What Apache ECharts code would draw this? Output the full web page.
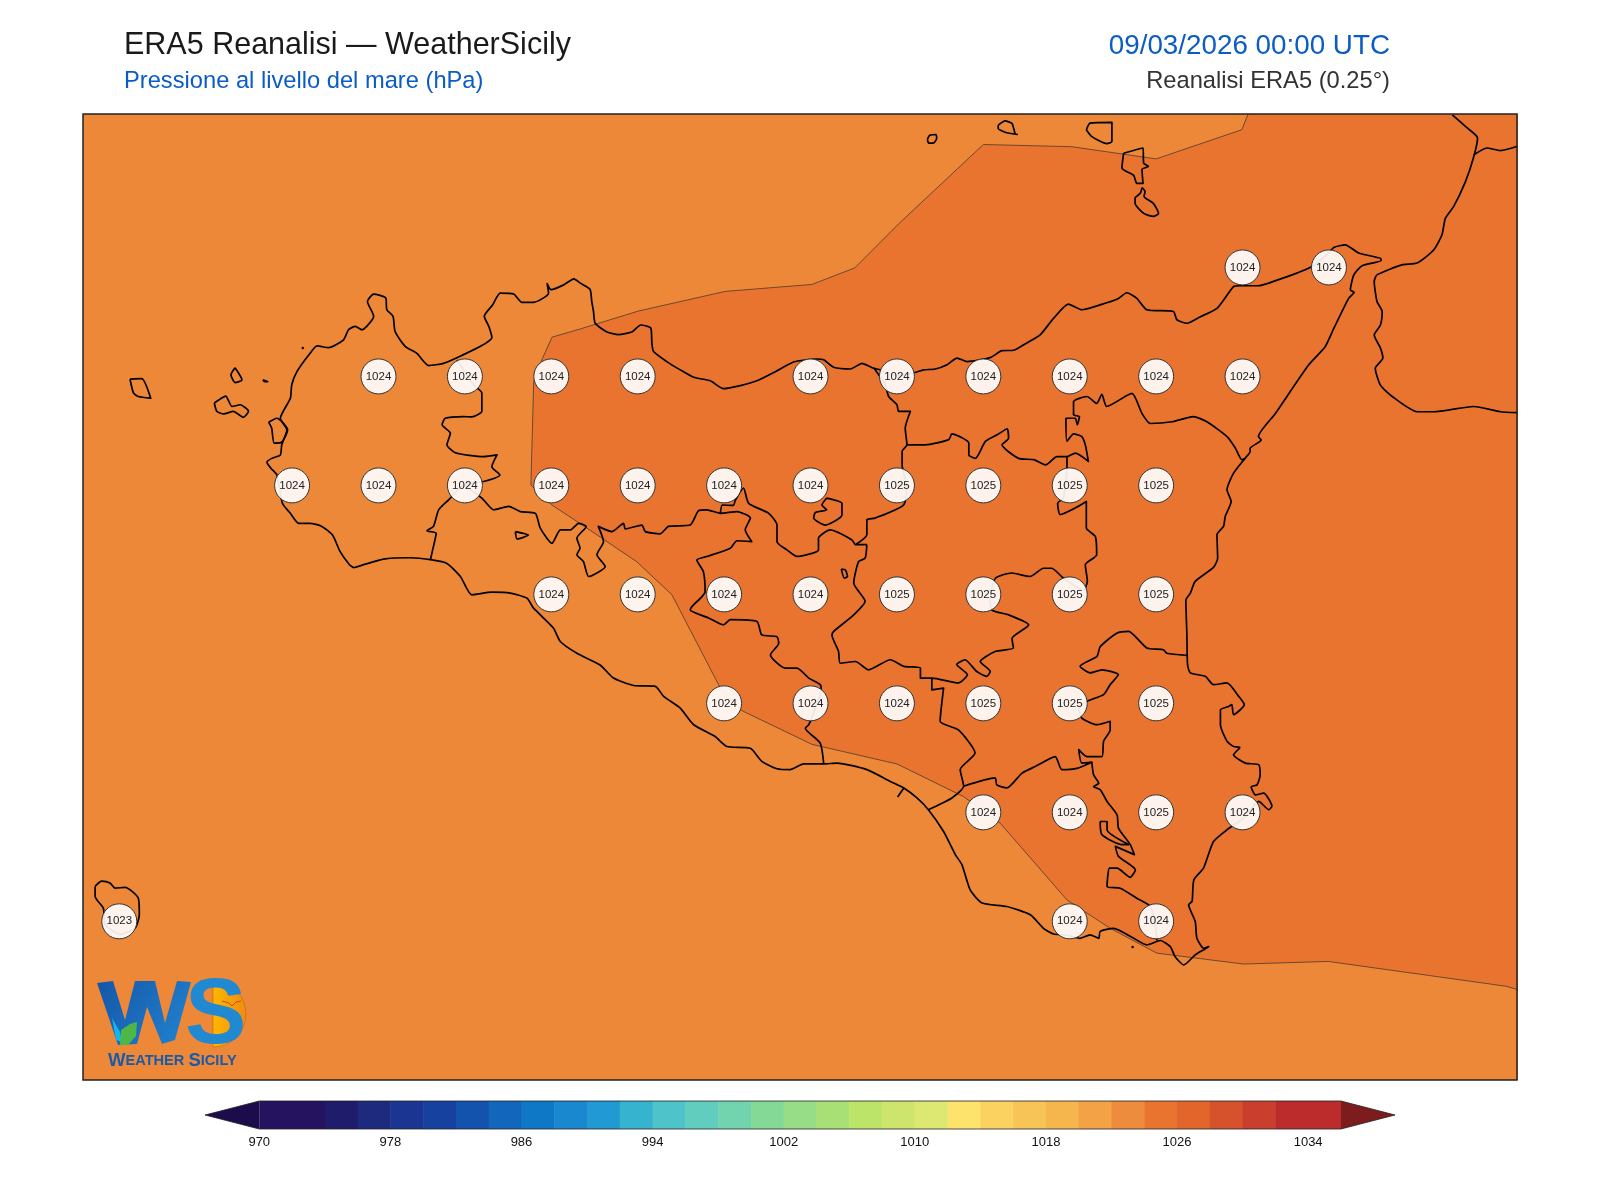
<!DOCTYPE html>
<html>
<head>
<meta charset="utf-8">
<title>ERA5 Reanalisi</title>
<script src="https://cdn.jsdelivr.net/npm/echarts@6/dist/echarts.min.js"></script>
<style>
  html, body { margin: 0; padding: 0; background: #fff; }
  #chart { width: 1600px; height: 1200px; }
</style>
</head>
<body>
<div id="chart"></div>
<script>
// stazioni griglia 0.25 gradi: lon, lat, pressione (hPa)
const stationLon = [15.25, 15.5,
  12.75, 13, 13.25, 13.5, 14, 14.25, 14.5, 14.75, 15, 15.25,
  12.5, 12.75, 13, 13.25, 13.5, 13.75, 14, 14.25, 14.5, 14.75, 15,
  13.25, 13.5, 13.75, 14, 14.25, 14.5, 14.75, 15,
  13.75, 14, 14.25, 14.5, 14.75, 15,
  14.5, 14.75, 15, 15.25,
  12, 14.75, 15];
const stationLat = [38.25, 38.25,
  38, 38, 38, 38, 38, 38, 38, 38, 38, 38,
  37.75, 37.75, 37.75, 37.75, 37.75, 37.75, 37.75, 37.75, 37.75, 37.75, 37.75,
  37.5, 37.5, 37.5, 37.5, 37.5, 37.5, 37.5, 37.5,
  37.25, 37.25, 37.25, 37.25, 37.25, 37.25,
  37, 37, 37, 37,
  36.75, 36.75, 36.75];
const stationPressure = [1024, 1024,
  1024, 1024, 1024, 1024, 1024, 1024, 1024, 1024, 1024, 1024,
  1024, 1024, 1024, 1024, 1024, 1024, 1024, 1025, 1025, 1025, 1025,
  1024, 1024, 1024, 1024, 1025, 1025, 1025, 1025,
  1024, 1024, 1024, 1025, 1025, 1025,
  1024, 1024, 1025, 1024,
  1023, 1024, 1024];

// isobanda 1024-1026 hPa
const contour1024 = [[15.27,38.61],[15.248,38.566],[15,38.499],[14.756,38.527],[14.5,38.532],[14.255,38.35],[14.128,38.249],[14.004,38.211],[13.753,38.195],[13.502,38.15],[13.334,38.109],[13.252,38.09],[13.218,38.03],[13.199,37.988],[13.191,37.751],[13.252,37.705],[13.353,37.652],[13.497,37.575],[13.599,37.499],[13.739,37.285],[13.797,37.235],[14.004,37.156],[14.25,37.111],[14.443,37.036],[14.549,36.975],[14.742,36.799],[14.867,36.734],[15.002,36.677],[15.253,36.652],[15.498,36.658],[16.013,36.601],[16.06,36.59],[16.06,38.61]];

// costa Sicilia
const coastSicily = [[12.678,37.561],[12.666,37.568],[12.639,37.598],[12.617,37.636],[12.586,37.656],[12.552,37.663],[12.519,37.663],[12.495,37.686],[12.472,37.709],[12.456,37.774],[12.439,37.789],[12.427,37.803],[12.441,37.812],[12.466,37.82],[12.47,37.843],[12.485,37.877],[12.466,37.904],[12.495,37.95],[12.499,37.981],[12.514,38.011],[12.552,38.053],[12.572,38.07],[12.606,38.066],[12.649,38.084],[12.663,38.107],[12.683,38.115],[12.702,38.107],[12.736,38.138],[12.718,38.172],[12.736,38.189],[12.771,38.18],[12.774,38.153],[12.792,38.138],[12.798,38.103],[12.827,38.069],[12.861,38.053],[12.895,38.025],[12.938,38.03],[12.996,38.05],[13.045,38.069],[13.078,38.089],[13.069,38.115],[13.056,38.138],[13.08,38.164],[13.102,38.191],[13.141,38.189],[13.165,38.17],[13.199,38.17],[13.242,38.191],[13.238,38.213],[13.249,38.199],[13.286,38.21],[13.315,38.224],[13.334,38.214],[13.362,38.2],[13.367,38.172],[13.372,38.149],[13.377,38.122],[13.411,38.102],[13.444,38.096],[13.483,38.102],[13.509,38.118],[13.538,38.111],[13.541,38.076],[13.546,38.057],[13.584,38.034],[13.623,38.015],[13.662,37.998],[13.71,37.99],[13.748,37.972],[13.797,37.979],[13.845,37.99],[13.903,38.013],[13.951,38.033],[14.019,38.04],[14.038,38.038],[14.067,38.021],[14.115,38.017],[14.149,38.03],[14.178,38.02],[14.202,38.015],[14.25,38.002],[14.303,38.009],[14.327,38.015],[14.361,38.017],[14.395,38.027],[14.424,38.042],[14.453,38.034],[14.52,38.043],[14.554,38.059],[14.588,38.06],[14.622,38.075],[14.665,38.096],[14.703,38.133],[14.746,38.166],[14.785,38.153],[14.857,38.169],[14.891,38.179],[14.915,38.192],[14.944,38.179],[14.973,38.153],[15.05,38.149],[15.06,38.13],[15.089,38.122],[15.128,38.137],[15.176,38.156],[15.224,38.206],[15.243,38.208],[15.296,38.208],[15.35,38.221],[15.407,38.237],[15.451,38.252],[15.499,38.283],[15.514,38.296],[15.547,38.302],[15.586,38.283],[15.649,38.271],[15.651,38.266],[15.596,38.254],[15.572,38.233],[15.562,38.198],[15.573,38.193],[15.557,38.179],[15.514,38.11],[15.489,38.068],[15.441,38.026],[15.345,37.915],[15.296,37.862],[15.304,37.854],[15.272,37.835],[15.272,37.828],[15.258,37.813],[15.224,37.778],[15.205,37.74],[15.217,37.713],[15.2,37.679],[15.195,37.656],[15.176,37.637],[15.178,37.583],[15.166,37.562],[15.113,37.53],[15.099,37.503],[15.086,37.487],[15.089,37.407],[15.091,37.338],[15.099,37.32],[15.142,37.312],[15.166,37.293],[15.205,37.297],[15.239,37.266],[15.255,37.247],[15.224,37.224],[15.219,37.247],[15.21,37.243],[15.186,37.235],[15.186,37.201],[15.205,37.163],[15.224,37.151],[15.242,37.149],[15.224,37.132],[15.258,37.113],[15.297,37.109],[15.301,37.086],[15.292,37.063],[15.275,37.059],[15.287,37.04],[15.311,37.044],[15.335,37.014],[15.326,37.006],[15.297,37.025],[15.253,36.987],[15.205,36.96],[15.166,36.933],[15.137,36.872],[15.109,36.845],[15.104,36.796],[15.094,36.788],[15.113,36.75],[15.118,36.711],[15.138,36.688],[15.152,36.692],[15.138,36.685],[15.113,36.673],[15.08,36.65],[15.055,36.669],[15.041,36.692],[15.012,36.706],[14.973,36.696],[14.935,36.711],[14.877,36.734],[14.838,36.727],[14.834,36.711],[14.809,36.719],[14.78,36.711],[14.737,36.719],[14.703,36.721],[14.674,36.734],[14.636,36.765],[14.568,36.784],[14.496,36.792],[14.462,36.822],[14.438,36.88],[14.419,36.903],[14.385,36.956],[14.341,37.006],[14.308,37.033],[14.27,37.056],[14.231,37.071],[14.163,37.098],[14.077,37.113],[14.038,37.111],[13.98,37.111],[13.941,37.098],[13.903,37.1],[13.859,37.117],[13.826,37.147],[13.758,37.151],[13.724,37.174],[13.662,37.201],[13.623,37.239],[13.575,37.266],[13.551,37.289],[13.488,37.291],[13.43,37.308],[13.391,37.338],[13.324,37.365],[13.276,37.392],[13.256,37.423],[13.198,37.469],[13.18,37.491],[13.131,37.503],[13.078,37.505],[13.02,37.499],[12.987,37.541],[12.948,37.571],[12.905,37.579],[12.842,37.584],[12.765,37.581],[12.678,37.561]];

// costa Calabria
const coastCalabria = [[15.857,38.6],[15.9,38.57],[15.93,38.547],[15.919,38.504],[15.895,38.447],[15.861,38.39],[15.837,38.363],[15.827,38.325],[15.803,38.29],[15.755,38.26],[15.711,38.256],[15.639,38.233],[15.631,38.218],[15.639,38.172],[15.654,38.149],[15.649,38.118],[15.631,38.095],[15.649,38.065],[15.656,38.042],[15.634,38.019],[15.649,37.98],[15.683,37.954],[15.755,37.919],[15.803,37.919],[15.919,37.931],[15.996,37.919],[16.045,37.917]];
const coastCalabriaGulf = [[15.919,38.508],[15.957,38.524],[15.996,38.518],[16.045,38.528]];

// isole (chiuse in fase di disegno)
const isleMarettimo = [[12.031,37.994],[12.065,37.995],[12.091,37.95],[12.055,37.954],[12.041,37.962]];
const isleLevanzo = [[12.335,38.02],[12.355,37.992],[12.335,37.986],[12.323,38.004]];
const isleFavignana = [[12.275,37.939],[12.308,37.955],[12.326,37.931],[12.35,37.935],[12.374,37.92],[12.359,37.906],[12.33,37.92],[12.302,37.914],[12.282,37.92]];
const isleStagnone = [[12.432,37.895],[12.456,37.904],[12.487,37.877],[12.47,37.849],[12.448,37.847],[12.441,37.881]];
const isleFormica = [[12.415,37.992],[12.429,37.988],[12.42,37.988]];
const isleAlicudi = [[14.338,38.544],[14.345,38.553],[14.363,38.555],[14.365,38.546],[14.355,38.535],[14.342,38.535]];
const isleSalina = [[14.543,38.576],[14.563,38.586],[14.583,38.58],[14.592,38.557],[14.598,38.555],[14.563,38.56],[14.543,38.569]];
const isleLipari = [[14.798,38.566],[14.809,38.581],[14.872,38.583],[14.872,38.539],[14.857,38.534],[14.814,38.55]];
const isleVulcanoNord = [[14.906,38.512],[14.962,38.524],[14.964,38.489],[14.978,38.482],[14.959,38.475],[14.962,38.443],[14.944,38.443],[14.935,38.461],[14.901,38.478]];
const isleVulcano = [[14.959,38.433],[14.968,38.424],[14.965,38.413],[14.992,38.397],[15.007,38.374],[14.992,38.367],[14.964,38.374],[14.939,38.397],[14.939,38.409],[14.954,38.42]];
const islePantelleria = [[11.93,36.83],[11.949,36.842],[11.973,36.838],[11.988,36.826],[12.017,36.828],[12.055,36.803],[12.058,36.765],[12.046,36.735],[12.002,36.72],[11.959,36.743],[11.954,36.78],[11.93,36.807]];
const rockDots = [[12.531,38.065],[14.932,36.691]];

// enclavi e laghi
const enclaveSalemi = [[13.146,37.644],[13.184,37.636],[13.151,37.627]];
const enclaveEnna = [[14.047,37.721],[14.091,37.709],[14.091,37.682],[14.043,37.659],[14.009,37.675],[14.014,37.688],[14.047,37.694],[14.033,37.705]];
const lakeSoprano = [[14.089,37.558],[14.101,37.556],[14.107,37.541],[14.098,37.537]];
const enclaveRagusa = [[14.838,36.979],[14.858,36.979],[14.858,36.96],[14.92,36.926],[14.901,36.926],[14.843,36.949]];

// confini provinciali
const borderTrapani = [[12.977,38.038],[13.025,37.981],[13.049,37.962],[13.049,37.92],[13.02,37.907],[12.996,37.908],[12.943,37.904],[12.934,37.889],[12.958,37.87],[12.948,37.843],[12.972,37.825],[13.054,37.816],[13.093,37.82],[13.078,37.793],[13.101,37.774],[13.054,37.759],[12.996,37.751],[12.953,37.717],[12.924,37.694],[12.909,37.656],[12.89,37.646],[12.917,37.64],[12.909,37.61],[12.9,37.579]];
const borderAgrigento = [[12.996,37.751],[13.049,37.721],[13.083,37.694],[13.127,37.702],[13.16,37.69],[13.204,37.686],[13.218,37.652],[13.252,37.617],[13.276,37.648],[13.305,37.648],[13.329,37.663],[13.351,37.656],[13.324,37.629],[13.333,37.606],[13.324,37.591],[13.343,37.575],[13.358,37.541],[13.406,37.564],[13.382,37.591],[13.401,37.621],[13.386,37.656],[13.425,37.644],[13.459,37.663],[13.464,37.65],[13.512,37.659],[13.522,37.644],[13.565,37.639],[13.589,37.656],[13.652,37.659],[13.676,37.692],[13.7,37.694],[13.739,37.686],[13.787,37.69],[13.826,37.675],[13.811,37.648],[13.83,37.621],[13.787,37.623],[13.768,37.606],[13.7,37.587],[13.671,37.579],[13.69,37.552],[13.695,37.506],[13.686,37.495],[13.657,37.472],[13.652,37.464],[13.705,37.446],[13.748,37.43],[13.768,37.442],[13.845,37.438],[13.859,37.407],[13.903,37.403],[13.908,37.388],[13.884,37.361],[13.927,37.331],[13.961,37.331],[13.995,37.308],[14.028,37.293],[14.031,37.281],[14.014,37.239],[13.995,37.201],[13.985,37.193],[14.028,37.159],[14.038,37.113]];
const borderPalermoSud = [[13.739,37.686],[13.745,37.705],[13.777,37.704],[13.782,37.715],[13.806,37.744],[13.821,37.709],[13.879,37.686],[13.903,37.659],[13.903,37.621],[13.932,37.602],[13.961,37.587],[14.023,37.602],[14.023,37.629],[14.057,37.648],[14.12,37.625],[14.13,37.614],[14.163,37.614]];
const borderPalermoEst = [[14.13,37.614],[14.163,37.637],[14.163,37.671],[14.187,37.675],[14.269,37.705],[14.279,37.744],[14.265,37.797],[14.265,37.828],[14.279,37.843],[14.274,37.881],[14.289,37.92],[14.255,37.92],[14.25,37.935],[14.226,37.954],[14.216,37.981],[14.183,38.02]];
const borderMessina = [[14.279,37.843],[14.332,37.843],[14.4,37.855],[14.409,37.868],[14.458,37.847],[14.458,37.82],[14.477,37.812],[14.506,37.851],[14.54,37.866],[14.569,37.88],[14.573,37.858],[14.554,37.843],[14.602,37.812],[14.646,37.809],[14.68,37.797],[14.713,37.816],[14.742,37.816],[14.766,37.824],[14.804,37.805],[14.795,37.843],[14.785,37.862],[14.761,37.868],[14.742,37.851],[14.739,37.904],[14.766,37.904],[14.772,37.889],[14.778,37.908],[14.761,37.912],[14.761,37.942],[14.8,37.954],[14.828,37.938],[14.843,37.959],[14.857,37.931],[14.93,37.961],[14.959,37.915],[14.983,37.892],[15.046,37.896],[15.108,37.908],[15.147,37.896],[15.205,37.862],[15.229,37.836],[15.248,37.809],[15.26,37.813]];
const borderEnnaNord = [[14.742,37.816],[14.742,37.793],[14.732,37.721],[14.715,37.709],[14.722,37.683],[14.756,37.694],[14.798,37.713],[14.798,37.652],[14.824,37.633],[14.828,37.591],[14.795,37.568],[14.801,37.53],[14.79,37.51],[14.732,37.537],[14.698,37.56],[14.674,37.56],[14.635,37.541],[14.582,37.549],[14.535,37.537],[14.52,37.491],[14.525,37.464],[14.573,37.453],[14.631,37.43],[14.583,37.399],[14.587,37.377],[14.534,37.369],[14.491,37.346],[14.52,37.323],[14.51,37.312],[14.481,37.323],[14.447,37.35],[14.423,37.339],[14.454,37.316],[14.428,37.297],[14.351,37.308],[14.318,37.308],[14.318,37.331],[14.27,37.335],[14.231,37.35],[14.168,37.327],[14.13,37.346],[14.086,37.342],[14.081,37.369],[14.062,37.407],[14.067,37.415],[14.125,37.453],[14.158,37.484],[14.125,37.526],[14.139,37.575],[14.158,37.583],[14.163,37.614]];
const borderGela = [[14.351,37.308],[14.351,37.281],[14.385,37.285],[14.375,37.209],[14.428,37.189],[14.476,37.136],[14.433,37.098],[14.443,37.06],[14.409,37.033],[14.37,37.017],[14.341,37.006]];
const borderRagusaNord = [[14.443,37.06],[14.534,37.079],[14.539,37.063],[14.568,37.056],[14.612,37.09],[14.65,37.105],[14.708,37.128],[14.727,37.098],[14.771,37.101],[14.814,37.115],[14.785,37.113],[14.776,37.144],[14.8,37.128],[14.843,37.128],[14.848,37.163],[14.867,37.189],[14.867,37.209],[14.829,37.201],[14.785,37.216],[14.776,37.239],[14.8,37.255],[14.848,37.27],[14.867,37.293],[14.891,37.316],[14.843,37.327],[14.809,37.32],[14.78,37.335],[14.829,37.358],[14.838,37.38],[14.886,37.411],[14.92,37.415],[14.973,37.377],[15.021,37.373],[15.031,37.365],[15.089,37.36]];
const borderSiracusa = [[14.814,37.115],[14.819,37.086],[14.834,37.067],[14.819,37.059],[14.838,37.052],[14.858,37.025],[14.887,36.994],[14.891,36.964],[14.925,36.926],[14.937,36.903],[14.882,36.922],[14.891,36.899],[14.94,36.868],[14.925,36.851],[14.887,36.872],[14.865,36.872],[14.858,36.83],[14.896,36.826],[14.944,36.803],[14.983,36.784],[14.998,36.742],[15.002,36.706]];
const tickLicata = [[14.252,37.035],[14.27,37.056]];

const openLines = [coastSicily, coastCalabria, coastCalabriaGulf, borderTrapani, borderAgrigento, borderPalermoSud, borderPalermoEst, borderMessina, borderEnnaNord, borderGela, borderRagusaNord, borderSiracusa, tickLicata];
const closedLines = [isleMarettimo, isleLevanzo, isleFavignana, isleStagnone, isleFormica, isleAlicudi, isleSalina, isleLipari, isleVulcanoNord, isleVulcano, islePantelleria, enclaveSalemi, enclaveEnna, lakeSoprano, enclaveRagusa];

// barra colori
const bandLevels = [970, 974, 976, 978, 980, 982, 984, 986, 988, 990, 992, 994, 996, 998, 1000, 1002, 1004, 1006, 1008, 1010, 1012, 1014, 1016, 1018, 1020, 1022, 1024, 1026, 1028, 1030, 1032, 1036];
const bandColors = ['#26135F', '#1F1C6C', '#1E2A7E', '#1B3592', '#17419F', '#1453AD', '#1266BB', '#0E78C7', '#1988CF', '#2199D2', '#35B3CF', '#4EC3CA', '#60CDBF', '#72D4AF', '#84D997', '#97DD88', '#A9E076', '#BBE468', '#CDE56C', '#DDE873', '#FDE36C', '#FBD25F', '#F7C458', '#F5B64E', '#F3A345', '#EE8C3D', '#E87430', '#E2652C', '#D6522C', '#C93E2C', '#BC2C2C'];
const barTicks = [970, 978, 986, 994, 1002, 1010, 1018, 1026, 1034];

const FONT = '"Liberation Sans", Arial, sans-serif';
const BLUE = '#0B5CC4';

const chart = echarts.init(document.getElementById('chart'));

const lineSeries = openLines.concat(closedLines.map(l => l.concat([l[0]]))).map(pts => ({
    type: 'line',
    data: pts,
    xAxisIndex: 0,
    yAxisIndex: 0,
    symbol: 'none',
    smooth: 0.2,
    silent: true,
    z: 3,
    lineStyle: { color: '#000', width: 1.7, join: 'round' }
}));

const option = {
    animation: false,
    backgroundColor: '#fff',
    title: [
        { text: 'ERA5 Reanalisi — WeatherSicily', left: 124, top: 30, padding: 0, textStyle: { fontFamily: FONT, fontSize: 30.5, fontWeight: 'normal', color: '#1a1a1a' } },
        { text: 'Pressione al livello del mare (hPa)', left: 124, top: 69, padding: 0, textStyle: { fontFamily: FONT, fontSize: 23.7, fontWeight: 'normal', color: BLUE } },
        { text: '09/03/2026 00:00 UTC', right: 210, top: 32, padding: 0, textStyle: { fontFamily: FONT, fontSize: 27.8, fontWeight: 'normal', color: BLUE } },
        { text: 'Reanalisi ERA5 (0.25°)', right: 210, top: 69, padding: 0, textStyle: { fontFamily: FONT, fontSize: 23.7, fontWeight: 'normal', color: '#333' } }
    ],
    grid: [
        { left: 83, top: 114, width: 1435, height: 966, show: true, backgroundColor: '#EE8839', borderWidth: 0 },
        { left: 205, top: 1101, width: 1190, height: 28, show: false }
    ],
    xAxis: [
        { type: 'value', gridIndex: 0, min: 11.895, max: 16.047, show: false },
        {
            type: 'value', gridIndex: 1, min: 966.69, max: 1039.3,
            axisLine: { show: false },
            axisTick: { show: false },
            splitLine: { show: false },
            axisLabel: { customValues: barTicks, formatter: v => String(v), margin: 7, fontFamily: FONT, fontSize: 13, color: '#111' }
        }
    ],
    yAxis: [
        { type: 'value', gridIndex: 0, min: 36.386, max: 38.602, show: false },
        { type: 'value', gridIndex: 1, min: 0, max: 1, show: false }
    ],
    series: [
        {
            type: 'custom',
            xAxisIndex: 0,
            yAxisIndex: 0,
            clip: true,
            silent: true,
            z: 1,
            data: [[14, 37.5]],
            renderItem: (params, api) => ({
                type: 'polygon',
                shape: { points: contour1024.map(p => api.coord(p)) },
                style: { fill: '#E87430', stroke: '#4d3a2c', lineWidth: 0.8 }
            })
        },
        ...lineSeries,
        {
            type: 'scatter',
            xAxisIndex: 0,
            yAxisIndex: 0,
            z: 3,
            silent: true,
            symbolSize: 2.5,
            data: rockDots,
            itemStyle: { color: '#000', opacity: 1 }
        },
        {
            type: 'scatter',
            xAxisIndex: 0,
            yAxisIndex: 0,
            z: 5,
            silent: true,
            symbolSize: 35,
            data: stationPressure.map((v, i) => [stationLon[i], stationLat[i], v]),
            itemStyle: { color: 'rgba(255,255,255,0.91)', borderColor: '#333', borderWidth: 1, opacity: 1 },
            label: {
                show: true,
                position: 'inside',
                formatter: p => p.value[2],
                fontFamily: FONT,
                fontSize: 11.5,
                color: '#222'
            }
        },
        {
            // bande della barra colori
            type: 'custom',
            xAxisIndex: 1,
            yAxisIndex: 1,
            silent: true,
            z: 2,
            data: bandColors.map((c, i) => [bandLevels[i], bandLevels[i + 1], i]),
            renderItem: (params, api) => {
                const a = api.coord([api.value(0), 1]);
                const b = api.coord([api.value(1), 0]);
                return {
                    type: 'rect',
                    shape: { x: a[0], y: a[1], width: b[0] - a[0] + 0.5, height: b[1] - a[1] },
                    style: { fill: bandColors[api.value(2)] }
                };
            }
        },
        {
            // estensioni a freccia e contorno
            type: 'custom',
            xAxisIndex: 1,
            yAxisIndex: 1,
            silent: true,
            z: 3,
            data: [[0]],
            renderItem: (params, api) => {
                const lo = bandLevels[0], hi = bandLevels[bandLevels.length - 1];
                const ax = api.coord([966.69, 0.5]), bx = api.coord([1039.3, 0.5]);
                const tl = api.coord([lo, 1]), bl = api.coord([lo, 0]);
                const tr = api.coord([hi, 1]), br = api.coord([hi, 0]);
                return {
                    type: 'group',
                    children: [
                        { type: 'polygon', shape: { points: [ax, tl, bl] }, style: { fill: '#1D0C4C' } },
                        { type: 'polygon', shape: { points: [bx, tr, br] }, style: { fill: '#7D1C1C' } },
                        { type: 'polygon', shape: { points: [ax, tl, tr, bx, br, bl] }, style: { fill: 'none', stroke: '#222', lineWidth: 0.8 } }
                    ]
                };
            }
        }
    ],
    graphic: [
        // cornice mappa
        { type: 'rect', z: 50, silent: true, shape: { x: 83, y: 114, width: 1434, height: 966 }, style: { fill: 'none', stroke: '#222', lineWidth: 1.5 } },
        // logo
        { type: 'sector', z: 20, silent: true, shape: { cx: 213, cy: 1014, r: 33, r0: 0, startAngle: -Math.PI / 2, endAngle: Math.PI / 2 }, style: { fill: { type: 'linear', x: 0, y: 0, x2: 1, y2: 0, colorStops: [{ offset: 0, color: '#FFB800' }, { offset: 1, color: '#F08A10' }] }, stroke: '#B8651A', lineWidth: 0.6 } },
        { type: 'text', z: 21, silent: true, x: 185, y: 972, style: { text: 'S', font: 'bold 92px "Liberation Sans"', fill: '#2189D2' } },
        { type: 'polygon', z: 21, silent: true, shape: { points: [[97, 983], [113, 981], [125, 1020], [135, 981], [155, 981], [165, 1023], [177, 981], [191, 982], [175, 1040], [162, 1044], [147, 1007], [137, 1044], [118, 1045]] }, style: { fill: { type: 'linear', x: 0, y: 0, x2: 1, y2: 1, colorStops: [{ offset: 0, color: '#1556A8' }, { offset: 1, color: '#2284D0' }] } } },
        { type: 'polygon', z: 22, silent: true, shape: { points: [[112, 1018], [120, 1032], [122, 1042], [116, 1040]] }, style: { fill: '#12B5F0' } },
        { type: 'polygon', z: 22, silent: true, shape: { points: [[120, 1045], [121, 1030], [130, 1024], [137, 1022], [136, 1036], [128, 1045]] }, style: { fill: '#4DB848' } },
        { type: 'polyline', z: 22, silent: true, shape: { points: [[222, 1001], [229, 1003], [232, 1006], [236, 1002], [241, 1001]] }, style: { fill: 'none', stroke: '#C0501A', lineWidth: 1 } },
        {
            type: 'text', z: 21, silent: true, x: 108, y: 1051,
            style: {
                text: '{a|W}{b|EATHER }{a|S}{b|ICILY}',
                rich: {
                    a: { font: 'bold 18.5px "Liberation Sans"', fill: '#1A5AA8', color: '#1A5AA8' },
                    b: { font: 'bold 14.6px "Liberation Sans"', fill: '#1A5AA8', color: '#1A5AA8' }
                }
            }
        }
    ]
};

chart.setOption(option);
</script>
</body>
</html>
